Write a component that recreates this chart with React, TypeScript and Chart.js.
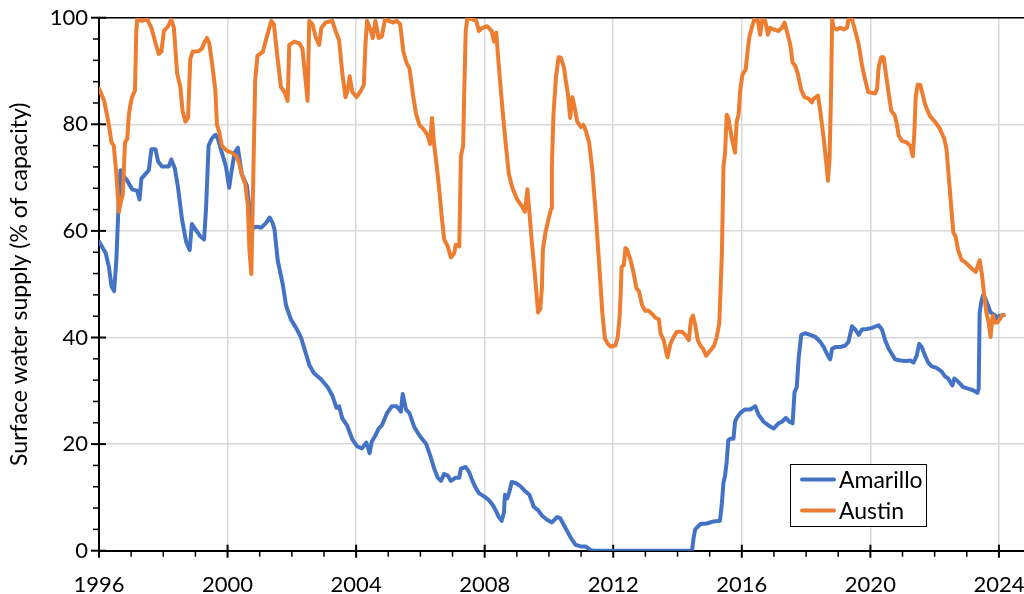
import React, { useEffect, useRef } from "react";
import { Chart, registerables } from "chart.js";

Chart.register(...registerables);

const seriesLabels = ["Amarillo", "Austin"];
const seriesColors = ["#4472C4", "#ED7D31"];

const xTickLabels = [1996, 2000, 2004, 2008, 2012, 2016, 2020, 2024];
const xMinorTicks = [1997, 1998, 1999, 2001, 2002, 2003, 2005, 2006, 2007, 2009, 2010, 2011, 2013, 2014, 2015, 2017, 2018, 2019, 2021, 2022, 2023];
const yTickLabels = [0, 20, 40, 60, 80, 100];
const yMinorTicks = [4, 8, 12, 16, 24, 28, 32, 36, 44, 48, 52, 56, 64, 68, 72, 76, 84, 88, 92, 96];

const amarilloYears = [
  1996.0, 1996.21, 1996.31, 1996.39, 1996.47, 1996.54, 1996.6, 1996.67, 1996.72, 1996.88,
  1997.03, 1997.19, 1997.26, 1997.32, 1997.45, 1997.55, 1997.63, 1997.76, 1997.84, 1997.96,
  1998.17, 1998.25, 1998.36, 1998.46, 1998.58, 1998.71, 1998.82, 1998.89, 1999.0, 1999.15,
  1999.27, 1999.33, 1999.41, 1999.51, 1999.58, 1999.63, 1999.7, 1999.82, 1999.95, 2000.05,
  2000.11, 2000.22, 2000.32, 2000.44, 2000.6, 2000.7, 2000.78, 2000.9, 2001.05, 2001.2,
  2001.31, 2001.4, 2001.46, 2001.56, 2001.72, 2001.82, 2001.97, 2002.13, 2002.28, 2002.39,
  2002.54, 2002.69, 2002.9, 2003.11, 2003.26, 2003.39, 2003.47, 2003.57, 2003.72, 2003.88,
  2004.03, 2004.18, 2004.32, 2004.42, 2004.49, 2004.6, 2004.7, 2004.8, 2004.96, 2005.11,
  2005.26, 2005.39, 2005.45, 2005.55, 2005.66, 2005.81, 2005.97, 2006.18, 2006.33, 2006.43,
  2006.54, 2006.64, 2006.74, 2006.85, 2006.95, 2007.1, 2007.21, 2007.26, 2007.41, 2007.52,
  2007.62, 2007.72, 2007.82, 2007.98, 2008.13, 2008.26, 2008.34, 2008.44, 2008.53, 2008.6,
  2008.63, 2008.7, 2008.77, 2008.84, 2008.96, 2009.11, 2009.27, 2009.39, 2009.53, 2009.66,
  2009.78, 2009.94, 2010.09, 2010.25, 2010.35, 2010.51, 2010.68, 2010.83, 2010.99, 2011.14,
  2011.3, 2011.4, 2014.45, 2014.5, 2014.55, 2014.71, 2014.91, 2015.12, 2015.32, 2015.38,
  2015.43, 2015.48, 2015.53, 2015.58, 2015.64, 2015.74, 2015.79, 2015.84, 2015.95, 2016.1,
  2016.26, 2016.42, 2016.52, 2016.68, 2016.83, 2016.99, 2017.14, 2017.25, 2017.37, 2017.48,
  2017.58, 2017.64, 2017.71, 2017.77, 2017.85, 2017.97, 2018.13, 2018.29, 2018.44, 2018.55,
  2018.65, 2018.75, 2018.81, 2018.91, 2019.06, 2019.22, 2019.32, 2019.43, 2019.53, 2019.64,
  2019.74, 2019.9, 2020.05, 2020.26, 2020.36, 2020.46, 2020.57, 2020.67, 2020.77, 2020.93,
  2021.08, 2021.24, 2021.34, 2021.39, 2021.44, 2021.52, 2021.6, 2021.7, 2021.8, 2021.91,
  2022.06, 2022.22, 2022.32, 2022.42, 2022.55, 2022.61, 2022.68, 2022.78, 2022.89, 2023.04,
  2023.2, 2023.33, 2023.37, 2023.4, 2023.45, 2023.51, 2023.58, 2023.66, 2023.74, 2023.81,
  2023.89, 2023.97, 2024.02, 2024.15,
];
const amarilloValues = [
  58.0, 55.8, 53.2, 49.6, 48.7, 54.5, 63.6, 71.4, 70.7, 69.4,
  67.8, 67.5, 65.9, 69.8, 70.7, 71.4, 75.3, 75.3, 73.0, 72.1,
  72.1, 73.4, 71.7, 68.1, 62.3, 58.0, 56.4, 61.3, 60.3, 59.0,
  58.4, 64.2, 76.0, 77.3, 77.8, 78.0, 77.3, 74.7, 72.1, 68.1,
  70.7, 74.7, 75.6, 70.7, 68.5, 63.5, 60.5, 60.8, 60.6, 61.5,
  62.5, 61.5, 60.3, 54.5, 49.9, 46.0, 43.4, 41.8, 40.1, 37.9,
  34.9, 33.3, 32.2, 30.7, 29.1, 26.8, 27.1, 24.8, 23.5, 20.9,
  19.6, 19.2, 20.3, 18.3, 20.5, 21.6, 22.9, 23.5, 25.8, 27.1,
  27.1, 26.1, 29.4, 26.5, 25.8, 23.2, 21.6, 20.0, 17.4, 15.4,
  13.7, 13.1, 14.4, 14.1, 13.1, 13.7, 13.7, 15.4, 15.7, 14.7,
  13.1, 11.8, 10.8, 10.2, 9.5, 8.5, 7.6, 6.3, 5.6, 7.2,
  10.5, 9.8, 11.1, 12.9, 12.7, 12.1, 11.1, 10.5, 8.2, 7.6,
  6.6, 5.8, 5.3, 6.3, 6.1, 4.3, 2.4, 1.1, 0.8, 0.8,
  0.1, 0.0, 0.0, 2.4, 4.0, 5.0, 5.1, 5.5, 5.6, 8.9,
  12.8, 14.1, 16.7, 20.7, 21.0, 21.0, 24.2, 24.9, 25.8, 26.5,
  26.5, 27.1, 25.5, 24.2, 23.5, 22.9, 23.9, 24.2, 24.9, 24.2,
  23.9, 29.7, 30.7, 36.2, 40.5, 40.8, 40.5, 40.1, 39.2, 38.2,
  36.9, 35.9, 37.9, 38.2, 38.2, 38.5, 39.2, 42.1, 41.5, 40.5,
  41.5, 41.6, 41.8, 42.3, 41.5, 39.5, 37.9, 36.9, 35.9, 35.7,
  35.6, 35.7, 35.3, 35.9, 36.6, 38.8, 38.2, 36.6, 35.3, 34.6,
  34.3, 33.6, 32.7, 32.3, 31.0, 32.3, 32.0, 31.4, 30.7, 30.4,
  30.1, 29.6, 30.4, 44.7, 46.6, 48.0, 47.3, 46.0, 44.7, 44.4,
  44.1, 43.4, 44.1, 44.2,
];

const austinYears = [
  1996.0, 1996.16, 1996.29, 1996.39, 1996.46, 1996.54, 1996.62, 1996.68, 1996.74, 1996.81,
  1996.88, 1996.93, 1996.98, 1997.03, 1997.12, 1997.16, 1997.19, 1997.34, 1997.5, 1997.63,
  1997.76, 1997.86, 1997.94, 1998.02, 1998.15, 1998.25, 1998.33, 1998.43, 1998.53, 1998.6,
  1998.69, 1998.77, 1998.84, 1998.91, 1999.1, 1999.2, 1999.29, 1999.36, 1999.43, 1999.53,
  1999.62, 1999.67, 1999.74, 1999.82, 1999.98, 2000.13, 2000.28, 2000.36, 2000.44, 2000.55,
  2000.63, 2000.68, 2000.74, 2000.8, 2000.86, 2000.93, 2001.1, 2001.21, 2001.36, 2001.44,
  2001.56, 2001.66, 2001.77, 2001.87, 2001.92, 2002.08, 2002.23, 2002.33, 2002.49, 2002.54,
  2002.64, 2002.75, 2002.85, 2002.92, 2003.05, 2003.26, 2003.36, 2003.47, 2003.57, 2003.67,
  2003.75, 2003.8, 2003.88, 2004.01, 2004.13, 2004.24, 2004.29, 2004.34, 2004.46, 2004.52,
  2004.6, 2004.7, 2004.8, 2004.9, 2005.01, 2005.16, 2005.26, 2005.37, 2005.47, 2005.57,
  2005.66, 2005.78, 2005.87, 2005.97, 2006.12, 2006.23, 2006.3, 2006.36, 2006.43, 2006.51,
  2006.59, 2006.67, 2006.74, 2006.85, 2006.95, 2007.05, 2007.1, 2007.21, 2007.26, 2007.33,
  2007.36, 2007.41, 2007.46, 2007.62, 2007.74, 2007.82, 2007.93, 2008.08, 2008.22, 2008.29,
  2008.36, 2008.44, 2008.55, 2008.65, 2008.75, 2008.86, 2009.01, 2009.16, 2009.25, 2009.33,
  2009.39, 2009.47, 2009.58, 2009.66, 2009.73, 2009.78, 2009.81, 2009.89, 2009.99, 2010.07,
  2010.09, 2010.14, 2010.22, 2010.3, 2010.37, 2010.47, 2010.52, 2010.59, 2010.66, 2010.73,
  2010.8, 2010.88, 2010.99, 2011.07, 2011.14, 2011.25, 2011.35, 2011.45, 2011.56, 2011.66,
  2011.74, 2011.83, 2011.92, 2012.07, 2012.14, 2012.2, 2012.23, 2012.26, 2012.33, 2012.38,
  2012.43, 2012.54, 2012.64, 2012.72, 2012.8, 2012.9, 2013.0, 2013.11, 2013.21, 2013.31,
  2013.42, 2013.47, 2013.57, 2013.65, 2013.69, 2013.78, 2013.88, 2013.98, 2014.14, 2014.24,
  2014.35, 2014.42, 2014.48, 2014.55, 2014.63, 2014.71, 2014.79, 2014.89, 2014.97, 2015.07,
  2015.14, 2015.22, 2015.3, 2015.38, 2015.43, 2015.48, 2015.53, 2015.58, 2015.69, 2015.79,
  2015.84, 2015.9, 2015.95, 2016.02, 2016.12, 2016.19, 2016.24, 2016.31, 2016.39, 2016.5,
  2016.57, 2016.64, 2016.73, 2016.81, 2016.88, 2016.99, 2017.14, 2017.25, 2017.33, 2017.4,
  2017.51, 2017.58, 2017.66, 2017.75, 2017.85, 2017.95, 2018.08, 2018.18, 2018.23, 2018.31,
  2018.37, 2018.44, 2018.55, 2018.63, 2018.68, 2018.73, 2018.78, 2018.81, 2018.86, 2018.96,
  2019.06, 2019.17, 2019.27, 2019.32, 2019.43, 2019.53, 2019.64, 2019.74, 2019.84, 2019.93,
  2020.03, 2020.15, 2020.21, 2020.26, 2020.34, 2020.41, 2020.48, 2020.57, 2020.65, 2020.75,
  2020.82, 2020.88, 2020.98, 2021.13, 2021.24, 2021.32, 2021.37, 2021.41, 2021.47, 2021.55,
  2021.62, 2021.7, 2021.78, 2021.86, 2022.01, 2022.16, 2022.3, 2022.37, 2022.44, 2022.51,
  2022.58, 2022.65, 2022.73, 2022.84, 2022.94, 2023.04, 2023.16, 2023.28, 2023.33, 2023.4,
  2023.47, 2023.54, 2023.61, 2023.68, 2023.74, 2023.78, 2023.81, 2023.87, 2023.95, 2024.02,
  2024.09, 2024.15,
];
const austinValues = [
  86.7, 84.4, 80.5, 76.6, 76.0, 70.7, 63.6, 65.5, 66.8, 76.6,
  77.3, 81.8, 83.8, 85.1, 86.4, 97.5, 99.7, 99.4, 99.7, 98.1,
  95.2, 93.2, 93.6, 97.5, 98.4, 99.7, 98.1, 89.6, 87.0, 82.5,
  80.5, 81.2, 92.2, 93.6, 93.7, 94.2, 95.5, 96.2, 95.2, 90.9,
  86.4, 79.9, 78.6, 76.0, 75.0, 74.7, 74.0, 72.7, 70.7, 68.8,
  64.9, 56.4, 51.9, 70.0, 88.3, 92.9, 93.6, 96.2, 99.4, 98.8,
  92.2, 87.0, 86.1, 84.4, 94.9, 95.5, 95.2, 94.2, 84.4, 99.4,
  98.8, 96.2, 94.9, 98.1, 99.1, 99.4, 97.5, 95.8, 89.6, 85.1,
  86.7, 89.0, 86.1, 85.1, 86.1, 87.4, 94.9, 99.4, 97.5, 96.2,
  99.4, 96.2, 96.5, 99.7, 99.4, 99.1, 99.4, 98.8, 93.6, 91.5,
  90.5, 85.1, 81.8, 79.9, 78.9, 77.9, 76.3, 81.2, 76.0, 72.1,
  67.5, 62.3, 58.4, 57.1, 55.0, 55.8, 57.4, 57.1, 74.0, 76.0,
  85.1, 97.5, 99.9, 99.7, 99.4, 97.5, 98.1, 98.4, 97.5, 95.5,
  97.2, 90.9, 83.1, 76.6, 70.7, 68.1, 65.9, 64.6, 63.6, 67.8,
  63.6, 57.7, 50.6, 44.7, 45.4, 49.3, 56.4, 59.7, 62.3, 64.2,
  72.1, 81.8, 89.0, 92.6, 92.5, 90.6, 88.3, 85.7, 81.2, 85.1,
  83.1, 80.5, 79.5, 79.9, 78.9, 76.6, 71.4, 63.6, 53.9, 44.7,
  39.8, 38.8, 38.3, 38.5, 40.1, 44.1, 48.0, 53.2, 53.6, 56.8,
  56.5, 54.5, 51.9, 49.3, 48.7, 46.0, 45.0, 45.0, 44.4, 43.7,
  43.4, 40.8, 39.5, 37.2, 36.3, 38.8, 40.1, 41.1, 41.1, 40.5,
  39.5, 43.4, 44.1, 42.4, 39.5, 38.5, 37.9, 36.6, 37.2, 37.9,
  38.5, 40.1, 42.7, 55.7, 72.1, 74.7, 81.8, 81.2, 77.3, 74.7,
  80.5, 81.8, 86.4, 89.3, 90.3, 94.2, 96.5, 98.1, 99.7, 99.4,
  96.8, 99.7, 99.4, 96.8, 98.1, 97.8, 97.5, 98.1, 99.1, 97.5,
  94.9, 91.6, 91.0, 89.3, 86.4, 85.1, 84.8, 84.1, 84.8, 85.1,
  85.4, 82.5, 77.3, 72.7, 69.4, 73.4, 87.0, 99.7, 98.1, 97.8,
  98.1, 97.8, 98.1, 99.7, 99.7, 97.5, 94.9, 91.0, 88.3, 86.1,
  85.9, 85.8, 86.7, 90.9, 92.6, 92.6, 89.6, 85.8, 82.5, 81.8,
  80.2, 77.9, 76.9, 76.6, 76.0, 74.0, 78.6, 85.1, 87.4, 87.4,
  85.8, 83.8, 82.5, 81.5, 80.5, 79.2, 77.3, 75.3, 70.1, 64.9,
  59.7, 59.0, 56.4, 54.5, 54.2, 53.6, 52.9, 52.3, 53.2, 54.5,
  51.9, 48.0, 44.7, 42.8, 40.1, 42.8, 44.1, 42.8, 42.8, 43.4,
  44.1, 44.2,
];

const FONT = "Lato, 'Open Sans', sans-serif";

const axisDecorPlugin = {
  id: "axisDecor",
  beforeDatasetsDraw(chart: any) {
    const { ctx, chartArea, scales } = chart;
    const xs = scales.x;
    const ys = scales.y;
    ctx.save();
    ctx.strokeStyle = "#000";
    ctx.lineWidth = 1.5;
    ctx.beginPath();
    ctx.moveTo(chartArea.left - 2, chartArea.top);
    ctx.lineTo(chartArea.right, chartArea.top);
    ctx.stroke();
    ctx.lineWidth = 2;
    xTickLabels.forEach((v) => {
      const px = xs.getPixelForValue(v);
      ctx.beginPath();
      ctx.moveTo(px, chartArea.bottom - 6);
      ctx.lineTo(px, chartArea.bottom + 7);
      ctx.stroke();
    });
    ctx.lineWidth = 1.5;
    xMinorTicks.forEach((v) => {
      const px = xs.getPixelForValue(v);
      ctx.beginPath();
      ctx.moveTo(px, chartArea.bottom);
      ctx.lineTo(px, chartArea.bottom + 6);
      ctx.stroke();
    });
    ctx.lineWidth = 2;
    yTickLabels.forEach((v) => {
      const py = ys.getPixelForValue(v);
      ctx.beginPath();
      ctx.moveTo(chartArea.left - 8, py);
      ctx.lineTo(chartArea.left + 7, py);
      ctx.stroke();
    });
    ctx.lineWidth = 1.5;
    yMinorTicks.forEach((v) => {
      const py = ys.getPixelForValue(v);
      ctx.beginPath();
      ctx.moveTo(chartArea.left - 6, py);
      ctx.lineTo(chartArea.left, py);
      ctx.stroke();
    });
    ctx.restore();
  },
  afterDraw(chart: any) {
    const { ctx } = chart;
    const boxX = 790.5;
    const boxY = 464.5;
    const boxW = 136;
    const boxH = 62;
    ctx.save();
    ctx.fillStyle = "#fff";
    ctx.fillRect(boxX, boxY, boxW, boxH);
    ctx.strokeStyle = "#000";
    ctx.lineWidth = 1;
    ctx.strokeRect(boxX, boxY, boxW, boxH);
    const rows = [479.5, 510.5];
    chart.data.datasets.forEach((ds: any, i: number) => {
      const y = rows[i];
      ctx.strokeStyle = ds.borderColor;
      ctx.lineWidth = 4;
      ctx.lineCap = "round";
      ctx.beginPath();
      ctx.moveTo(802, y);
      ctx.lineTo(834, y);
      ctx.stroke();
      ctx.fillStyle = "#000";
      ctx.font = `23px ${FONT}`;
      ctx.textBaseline = "alphabetic";
      ctx.textAlign = "left";
      ctx.fillText(ds.label, 839, y + 8);
    });
    ctx.restore();
  },
};

export default function App() {
  const canvasRef = useRef<HTMLCanvasElement | null>(null);

  useEffect(() => {
    if (!canvasRef.current) return;
    const chart = new Chart(canvasRef.current, {
      type: "line",
      data: {
        datasets: [
          {
            label: seriesLabels[0],
            data: amarilloYears.map((x, i) => ({ x, y: amarilloValues[i] })),
            borderColor: seriesColors[0],
            backgroundColor: seriesColors[0],
            borderWidth: 4,
            pointRadius: 0,
            tension: 0,
            borderJoinStyle: "round",
            borderCapStyle: "round",
            order: 1,
          },
          {
            label: seriesLabels[1],
            data: austinYears.map((x, i) => ({ x, y: austinValues[i] })),
            borderColor: seriesColors[1],
            backgroundColor: seriesColors[1],
            borderWidth: 4,
            pointRadius: 0,
            tension: 0,
            borderJoinStyle: "round",
            borderCapStyle: "round",
            order: 0,
          },
        ],
      },
      options: {
        responsive: false,
        animation: false,
        events: [],
        layout: { padding: { top: 17.7, right: 0, bottom: 0, left: 0 } },
        plugins: {
          legend: { display: false },
          tooltip: { enabled: false },
        },
        scales: {
          x: {
            type: "linear",
            min: 1996,
            max: 2024.78,
            afterBuildTicks: (s: any) => {
              s.ticks = xTickLabels.map((v) => ({ value: v }));
            },
            afterFit: (s: any) => {
              s.height = 43.3;
              s.paddingLeft = 0;
              s.paddingRight = 0;
            },
            grid: { color: "#d9d9d9", lineWidth: 1.5, drawTicks: false },
            border: { display: true, color: "#000", width: 2 },
            ticks: {
              autoSkip: false,
              maxRotation: 0,
              color: "#000",
              padding: 21,
              font: { family: FONT, size: 22 },
              callback: (v: any) => String(v),
            },
          },
          y: {
            type: "linear",
            min: 0,
            max: 100,
            afterBuildTicks: (s: any) => {
              s.ticks = yTickLabels.map((v) => ({ value: v }));
            },
            afterFit: (s: any) => {
              s.width = 99;
              s.paddingTop = 0;
              s.paddingBottom = 0;
            },
            grid: { color: "#d9d9d9", lineWidth: 1.5, drawTicks: false },
            border: { display: true, color: "#000", width: 2 },
            ticks: {
              color: "#000",
              padding: 11,
              font: { family: FONT, size: 22 },
              callback: (v: any) => String(v),
            },
            title: {
              display: true,
              text: "Surface water supply (% of capacity)",
              color: "#000",
              font: { family: FONT, size: 23 },
              padding: { top: 6, bottom: 0 },
            },
          },
        },
      },
      plugins: [axisDecorPlugin],
    });
    return () => chart.destroy();
  }, []);

  return (
    <div style={{ position: "absolute", left: 0, top: 0, width: 1024, height: 594, background: "#fff" }}>
      <canvas ref={canvasRef} width={1024} height={594} style={{ display: "block" }} />
    </div>
  );
}
